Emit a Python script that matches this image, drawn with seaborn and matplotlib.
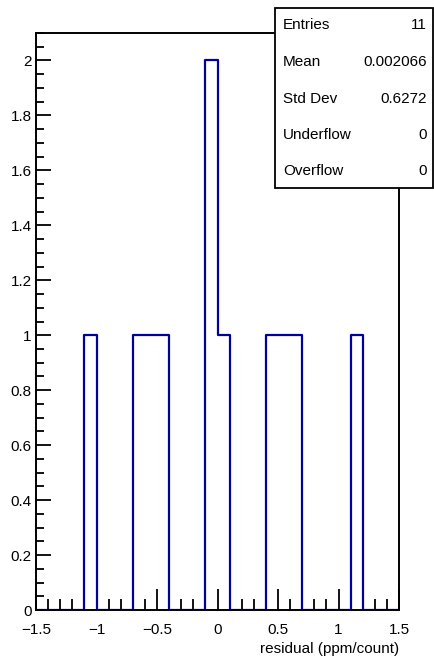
import matplotlib
matplotlib.use("Agg")
import matplotlib.pyplot as plt
import seaborn as sns
import pandas as pd
import numpy as np
from matplotlib.ticker import MultipleLocator, FuncFormatter
from matplotlib.patches import Rectangle

# residual values (bin centres of filled bins)
residuals = [-1.05, -0.65, -0.55, -0.45, -0.05, -0.05, 0.05, 0.45, 0.55, 0.65, 1.15]
stat_names = ["Entries", "Mean", "Std Dev", "Underflow", "Overflow"]
stat_values = ["11", "0.002066", "0.6272", "0", "0"]
x_label = "residual (ppm/count)"

sns.set_style("white")
plt.rcParams['font.family'] = ['Liberation Sans', 'DejaVu Sans']
plt.rcParams['axes.unicode_minus'] = True
plt.rcParams['text.color'] = 'black'
plt.rcParams['axes.labelcolor'] = 'black'
plt.rcParams['xtick.color'] = 'black'
plt.rcParams['ytick.color'] = 'black'

fig = plt.figure(figsize=(4.35, 6.6), dpi=100)
ax = fig.add_axes([36/435, 50/660, 363/435, 577/660])

df = pd.DataFrame({"residual": residuals})
sns.histplot(data=df, x="residual", bins=30, binrange=(-1.5, 1.5), element="step",
             fill=False, color="#00009e", linewidth=1.6, ax=ax)

ax.set_xlim(-1.5, 1.5)
ax.set_ylim(0, 2.1)
ax.set_ylabel("")
ax.set_xlabel(x_label, fontsize=11, loc="right", labelpad=4)

for s in ax.spines.values():
    s.set_visible(True)
    s.set_color("black")
    s.set_linewidth(1.4)

def fmt(v, pos):
    s = "%g" % round(v, 3)
    return s.replace("-", "\u2212")

ax.xaxis.set_major_locator(MultipleLocator(0.5))
ax.xaxis.set_minor_locator(MultipleLocator(0.1))
ax.yaxis.set_major_locator(MultipleLocator(0.2))
ax.yaxis.set_minor_locator(MultipleLocator(0.05))
ax.xaxis.set_major_formatter(FuncFormatter(fmt))
ax.yaxis.set_major_formatter(FuncFormatter(fmt))
ax.tick_params(axis="x", which="major", direction="in", length=15, width=1.3, labelsize=11, pad=9, bottom=True, top=False)
ax.tick_params(axis="x", which="minor", direction="in", length=8, width=1.3, bottom=True, top=False)
ax.tick_params(axis="y", which="major", direction="in", length=11, width=1.3, labelsize=11, pad=3, left=True, right=False)
ax.tick_params(axis="y", which="minor", direction="in", length=6, width=1.3, left=True, right=False)

# stats box
x0, x1 = 275/435, 433/435
y0, y1 = 1 - 188/660, 1 - 8/660
fig.patches.append(Rectangle((x0, y0), x1 - x0, y1 - y0, transform=fig.transFigure,
                             facecolor="white", edgecolor="black", linewidth=1.3, zorder=10))
rows_y = [25, 62, 99, 135, 171]
for name, val, yy in zip(stat_names, stat_values, rows_y):
    fig.text(283/435, 1 - yy/660, name, ha="left", va="center", fontsize=11, zorder=11)
    fig.text(427/435, 1 - yy/660, val, ha="right", va="center", fontsize=11, zorder=11)

fig.savefig("out.png", dpi=100, facecolor="white")
